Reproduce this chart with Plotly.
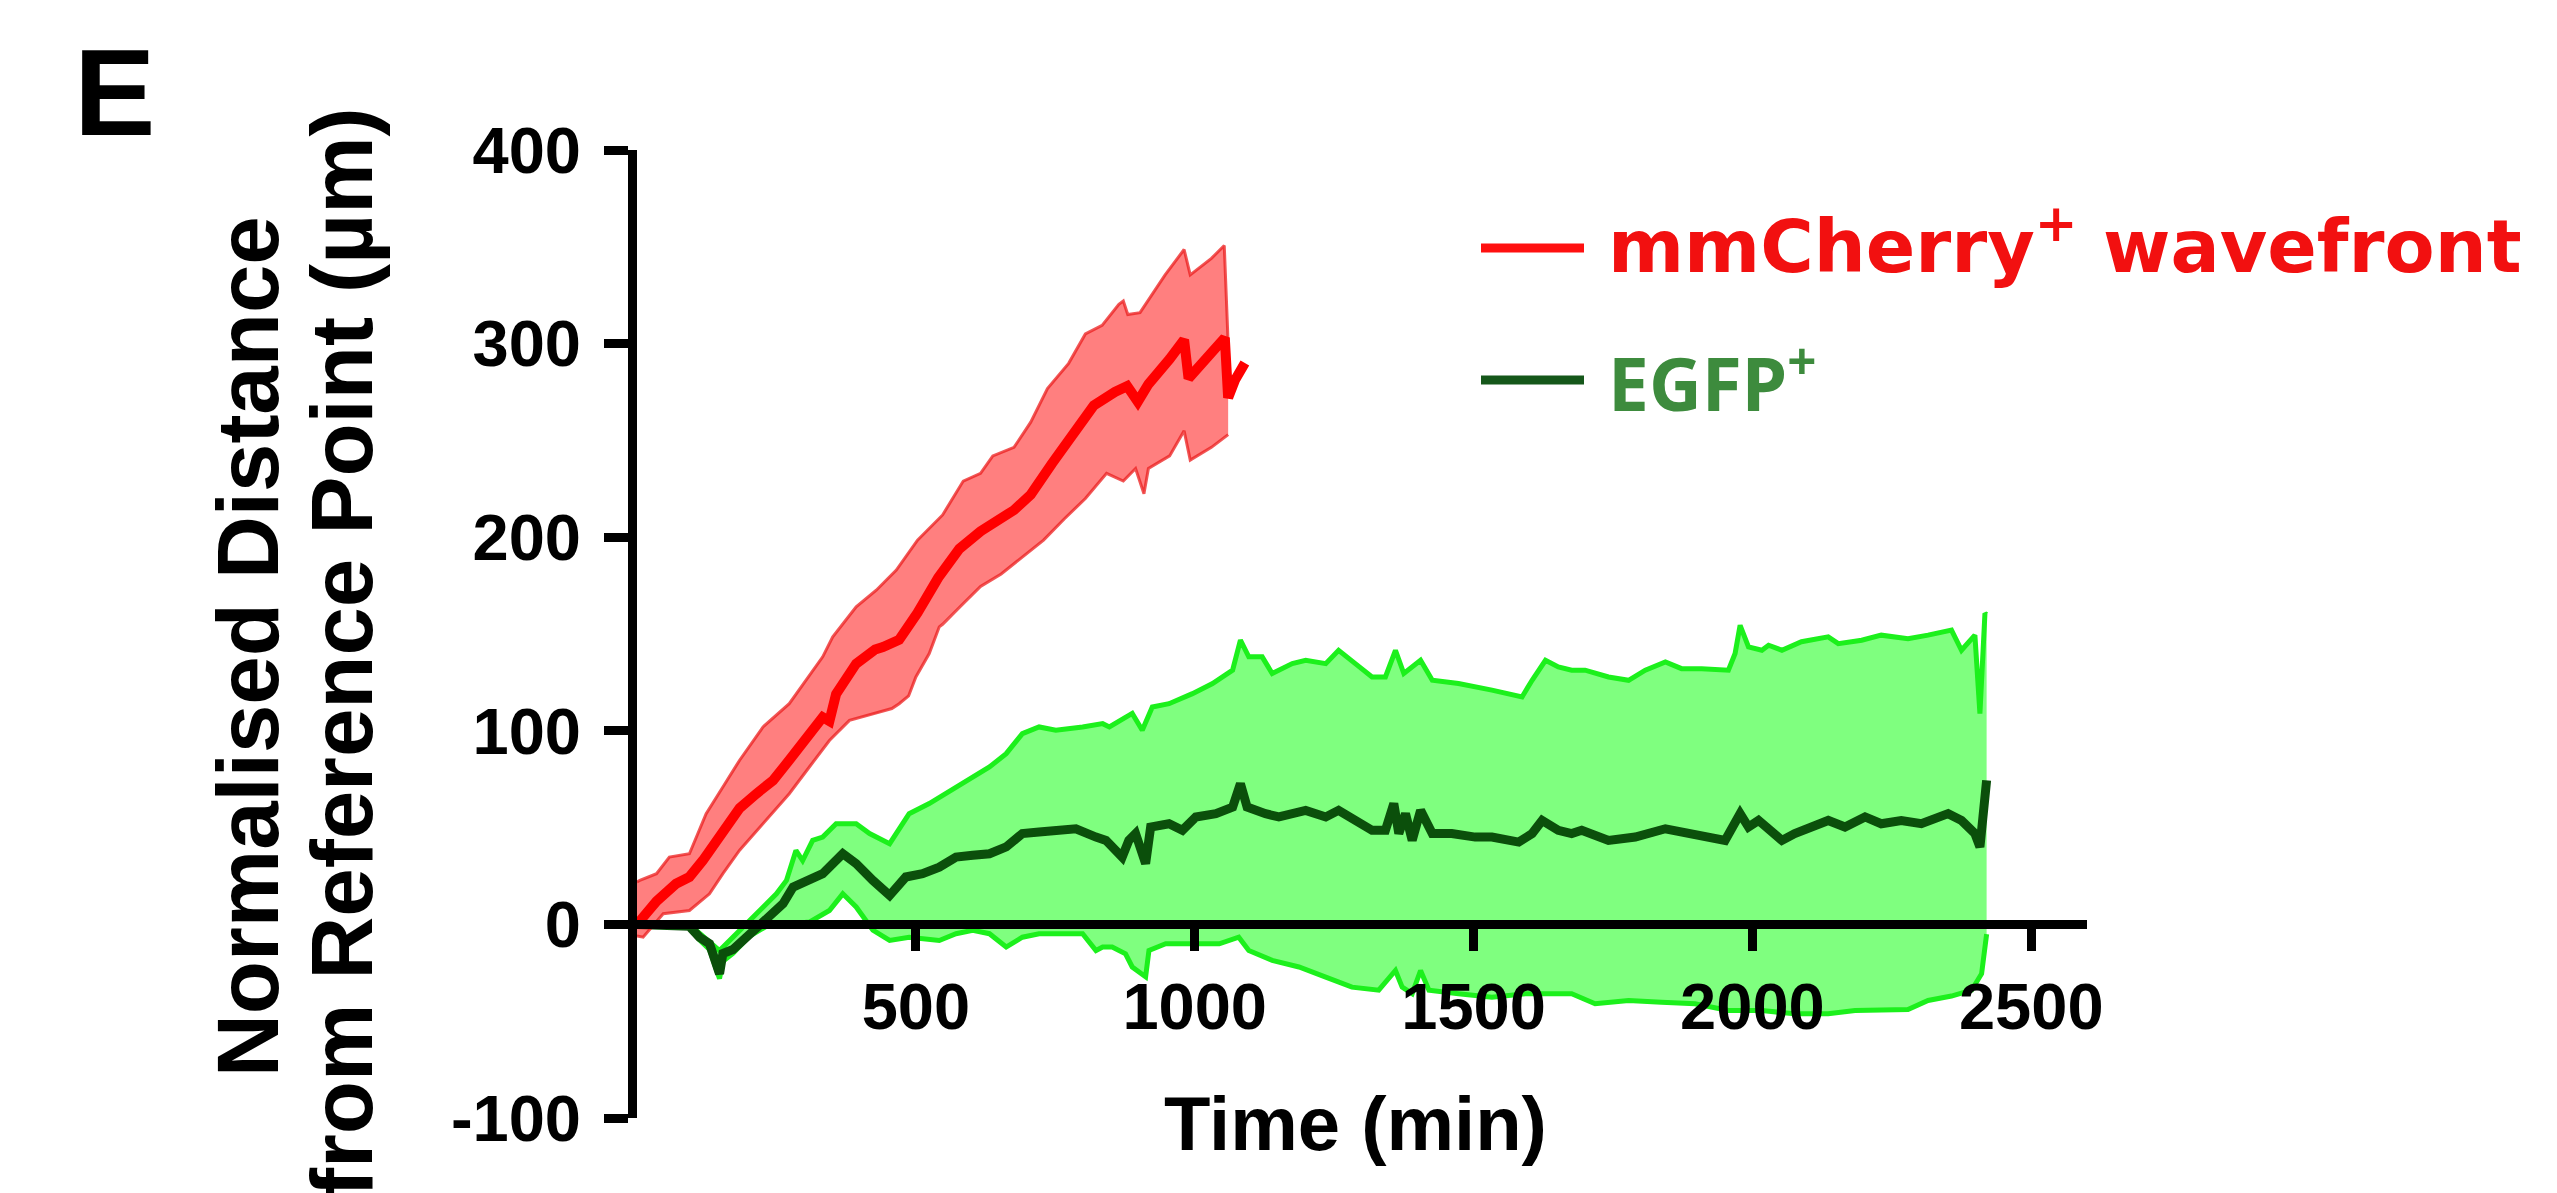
import plotly.graph_objects as go

# ---- mmCherry+ wavefront: mean distance and SEM envelope (time in min, distance in µm)
cherry_mean_t = [0, 35, 70, 94, 118, 148, 184, 214, 244, 273, 299, 309, 333, 345, 357, 393, 427, 441, 470, 503,
                 524, 540, 578, 616, 676, 706, 744, 781, 819, 857, 879, 898, 917, 955, 981, 989, 1015, 1049, 1054, 1060,
                 1072, 1090]
cherry_mean_v = [0, 12, 21, 24.5, 33, 45, 60, 67.5, 74.4, 84.8, 94, 98.5, 107, 105, 119, 134.7, 142, 143.3, 147, 161,
                 171, 179, 194, 203, 214, 222, 238, 253, 268, 275, 278, 270, 279, 292, 302, 282, 290, 300, 303, 272,
                 281, 290]

cherry_upper_t = [0, 5, 35, 58, 94, 124, 154, 184, 226, 273, 333, 351, 393, 429, 465, 503, 548, 585, 616, 638,
                  676, 706, 736, 774, 804, 834, 864, 872, 880, 902, 947, 981, 992, 1030, 1053, 1060]
cherry_upper_v = [22, 22.7, 26.2, 34.8, 36.5, 57.2, 71, 84.8, 102, 114, 138.2, 148.5, 164, 172.6, 183, 198.5, 211.5,
                  229, 233, 242, 246.4, 259.4, 276.8, 289.8, 305, 309.4, 320.3, 322, 315, 316, 335.5, 348.6, 335.5,
                  344, 350.7, 300]

cherry_lower_t = [0, 11, 47, 94, 130, 154, 184, 226, 273, 309, 345, 381, 429, 457, 470, 487, 500, 524, 542, 548,
                  578, 616, 653, 691, 729, 766, 804, 842, 872, 894, 909, 917, 955, 981, 992, 1030, 1060]
cherry_lower_v = [-6, -6.6, 5.5, 7.2, 15.8, 26.2, 38.3, 52, 67.5, 81.3, 95, 105.4, 109, 111.5, 114, 118, 127.8,
                  139.9, 153.7, 155, 163.7, 174.6, 181, 189.8, 198.5, 209.4, 220, 233, 229, 235.5, 222.4, 235.5, 242,
                  255, 239.8, 246.4, 253]

# ---- EGFP+ cells: mean distance and SEM envelope
egfp_mean_t = [0, 94, 112, 130, 148, 154, 172, 202, 238, 262, 280, 309, 333, 369, 393, 423, 453, 482, 512, 542,
               572, 602, 632, 662, 691, 721, 751, 787, 823, 841, 870, 882, 894, 912, 921, 954, 978, 1002, 1038, 1068,
               1082, 1094, 1127, 1151, 1199, 1235, 1258, 1288, 1318, 1342, 1357, 1366, 1378, 1390, 1405, 1426, 1461,
               1503, 1533, 1581, 1605, 1623, 1652, 1676, 1694, 1742, 1790, 1844, 1897, 1951, 1978, 1993, 2011, 2029,
               2053, 2076, 2106, 2136, 2166, 2202, 2231, 2267, 2303, 2351, 2375, 2399, 2408, 2414, 2420]
egfp_mean_v = [0, -1, -6.6, -10, -25.5, -15, -13, -4.8, 5.5, 10.7, 19.3, 22.7, 26.2, 36.5, 31.4, 22.7, 15, 24.5,
               26.2, 29.6, 34.8, 35.7, 36.5, 40, 46.9, 47.7, 48.6, 49.4, 45.1, 43.4, 34.8, 43.4, 46.9, 31.4, 50.3, 52,
               48.6, 55.5, 57.2, 60.6, 72.7, 60.6, 57.2, 55.5, 58.9, 55.5, 58.9, 53.7, 48.6, 48.6, 62.4, 46.9, 57.2,
               43.4, 58.9, 46.9, 46.9, 45.1, 45.1, 42.5, 46.9, 53.7, 48.6, 46.9, 48.6, 43.4, 45.1, 49.4, 46.9, 43.4,
               57.2, 50.3, 53.7, 48.6, 43.4, 46.9, 50.3, 53.7, 50.3, 55.5, 52, 53.7, 52, 57.2, 53.7, 46.9, 40, 57.2,
               74.4]

egfp_upper_t = [0, 94, 148, 178, 214, 250, 268, 285, 297, 315, 333, 357, 393, 417, 453, 488, 524, 572, 602, 632,
                662, 691, 721, 751, 799, 835, 847, 888, 906, 924, 954, 996, 1032, 1068, 1082, 1097, 1121, 1139, 1175,
                1199, 1235, 1258, 1288, 1318, 1342, 1360, 1375, 1405, 1426, 1473, 1533, 1587, 1605, 1629, 1652, 1676,
                1700, 1742, 1778, 1808, 1844, 1873, 1909, 1957, 1969, 1978, 1993, 2017, 2029, 2053, 2088, 2136, 2154,
                2196, 2231, 2279, 2315, 2357, 2375, 2399, 2408, 2417, 2420]
egfp_upper_v = [0, 0, -13.5, -4.8, 5.5, 15.8, 22.7, 38.2, 33, 43.4, 45.1, 52, 52, 46.9, 41.7, 57.2, 62.4, 71, 76.1,
                81.3, 88.2, 98.5, 102, 100.3, 102, 103.7, 102, 109, 100.3, 112.3, 114, 119.2, 124.4, 131.3, 146.8,
                138.2, 138.2, 129.6, 134.7, 136.4, 134.7, 141.6, 134.7, 127.8, 127.8, 141.6, 129.6, 136.4, 126.1,
                124.4, 121, 117.5, 126.1, 136.4, 133, 131.3, 131.3, 127.8, 126.1, 131.3, 135.6, 132.1, 132.1, 131.3,
                139.9, 154.5, 143.3, 141.6, 144.2, 141.6, 146, 148.5, 145, 146.8, 149.4, 147.6, 149.4, 152, 141.6,
                149.4, 108.9, 160.6, 160]

egfp_lower_t = [0, 94, 112, 130, 148, 154, 172, 202, 232, 273, 309, 345, 369, 393, 423, 453, 488, 542, 572, 602,
                632, 662, 691, 721, 751, 799, 823, 835, 852, 876, 888, 912, 918, 948, 996, 1044, 1079, 1097, 1139,
                1187, 1235, 1282, 1330, 1360, 1372, 1390, 1405, 1420, 1473, 1533, 1593, 1652, 1676, 1718, 1748, 1778,
                1837, 1897, 1957, 2017, 2076, 2136, 2184, 2231, 2279, 2315, 2357, 2393, 2411, 2420]
egfp_lower_v = [0, -1, -8, -13, -28, -19, -15, -6, -1, 0.3, 1.2, 7.2, 15.8, 9, -3, -8.3, -6.6, -8.3, -4.8, -3.1,
                -4.8, -11.7, -6.6, -4.8, -4.8, -4.8, -13.5, -11.7, -11.7, -15.2, -22, -27, -13.5, -10, -10, -10, -6.6,
                -13.5, -18.6, -22, -27.2, -32.4, -34, -23.8, -32.4, -35.8, -23.8, -34, -35.8, -37.6, -35.8, -35.8,
                -35.8, -41, -40.2, -39.3, -40.2, -41, -44.5, -44.5, -46.2, -46.2, -44.5, -44.5, -44, -39.3, -37, -34,
                -25.5, -5]

# ---- axes
x_range = [0, 2600]
y_range = [-100, 400]
x_ticks = [500, 1000, 1500, 2000, 2500]
y_ticks = [-100, 0, 100, 200, 300, 400]

legend_labels = ["mmCherry<sup>+</sup> wavefront", "EGFP<sup>+</sup>"]
x_title = "Time (min)"
y_title_lines = ["Normalised Distance", "from Reference Point (µm)"]
panel_label = "E"

# ---- page geometry (pixels)
W, H = 2557, 1193
L, R, T, B = 637, 470, 150, 75
PW, PH = W - L - R, H - T - B


def px_x(x):
    return (x - L) / PW


def px_y(y):
    return (H - B - y) / PH


RED = "#ff0000"
RED_FILL = "rgba(255,0,0,0.5)"
RED_EDGE = "rgba(235,30,30,0.75)"
GREEN_FILL = "rgba(0,255,0,0.5)"
GREEN_EDGE = "#1cf01c"
DARK_GREEN = "#0b4f0b"


def band(t_up, v_up, t_lo, v_lo, fill, edge, edge_w):
    poly = go.Scatter(x=list(t_up) + list(reversed(t_lo)), y=list(v_up) + list(reversed(v_lo)),
                      fill="toself", fillcolor=fill, line=dict(width=0), mode="lines",
                      hoverinfo="skip", showlegend=False)
    up = go.Scatter(x=t_up, y=v_up, mode="lines", line=dict(color=edge, width=edge_w), showlegend=False)
    lo = go.Scatter(x=t_lo, y=v_lo, mode="lines", line=dict(color=edge, width=edge_w), showlegend=False)
    return [poly, up, lo]


fig = go.Figure()
for tr in band(egfp_upper_t, egfp_upper_v, egfp_lower_t, egfp_lower_v, GREEN_FILL, GREEN_EDGE, 5):
    fig.add_trace(tr)
fig.add_trace(go.Scatter(x=egfp_mean_t, y=egfp_mean_v, mode="lines",
                         line=dict(color=DARK_GREEN, width=9), showlegend=False))
for tr in band(cherry_upper_t, cherry_upper_v, cherry_lower_t, cherry_lower_v, RED_FILL, RED_EDGE, 3):
    fig.add_trace(tr)
fig.add_trace(go.Scatter(x=cherry_mean_t, y=cherry_mean_v, mode="lines",
                         line=dict(color=RED, width=10), showlegend=False))

tick_font = dict(family="Liberation Sans, Arial, sans-serif", size=65, color="black", weight="bold")

fig.update_layout(
    width=W, height=H,
    margin=dict(l=L, r=R, t=T, b=B, pad=0),
    paper_bgcolor="white", plot_bgcolor="white",
    showlegend=False,
    xaxis=dict(range=x_range, tickvals=x_ticks, ticktext=[str(v) for v in x_ticks],
               anchor="free", position=(0 - y_range[0]) / (y_range[1] - y_range[0]),
               showline=True, linecolor="black", linewidth=9,
               ticks="outside", ticklen=22, tickwidth=9, tickcolor="black",
               showgrid=False, zeroline=False, tickfont=tick_font, ticklabelstandoff=0),
    yaxis=dict(range=y_range, tickvals=y_ticks, ticktext=[str(v) for v in y_ticks],
               showline=True, linecolor="black", linewidth=9,
               ticks="outside", ticklen=24, tickwidth=9, tickcolor="black",
               showgrid=False, zeroline=False, tickfont=tick_font, ticklabelstandoff=10),
)

bold_arial = "Liberation Sans, Arial, sans-serif"
annotations = [
    dict(text=panel_label, x=px_x(114), y=px_y(93),
         font=dict(family=bold_arial, size=122, color="black", weight="bold")),
    dict(text=x_title, x=px_x(1355), y=px_y(1123),
         font=dict(family=bold_arial, size=76, color="black", weight="bold")),
    dict(text=y_title_lines[0], x=px_x(247), y=px_y(647), textangle=-90,
         font=dict(family=bold_arial, size=87, color="black", weight="bold")),
    dict(text=y_title_lines[1], x=px_x(341), y=px_y(653), textangle=-90,
         font=dict(family=bold_arial, size=87, color="black", weight="bold")),
    dict(text=legend_labels[0], x=px_x(1606), y=px_y(241), xanchor="left",
         font=dict(family="DejaVu Sans, sans-serif", size=73, color="#f21010", weight="bold")),
    dict(text=legend_labels[1], x=px_x(1606), y=px_y(378), xanchor="left",
         font=dict(family="Noto Sans, sans-serif", size=73, color="#3d8b3d", weight="bold")),
]
for a in annotations:
    a.setdefault("xanchor", "center")
    a.setdefault("yanchor", "middle")
    fig.add_annotation(xref="paper", yref="paper", showarrow=False, **a)

# legend keys
fig.add_shape(type="line", xref="paper", yref="paper", x0=px_x(1481), x1=px_x(1584), y0=px_y(248), y1=px_y(248),
              line=dict(color="#ff1010", width=9))
fig.add_shape(type="line", xref="paper", yref="paper", x0=px_x(1481), x1=px_x(1584), y0=px_y(380), y1=px_y(380),
              line=dict(color="#15571a", width=9))

fig.write_html("out.html")
